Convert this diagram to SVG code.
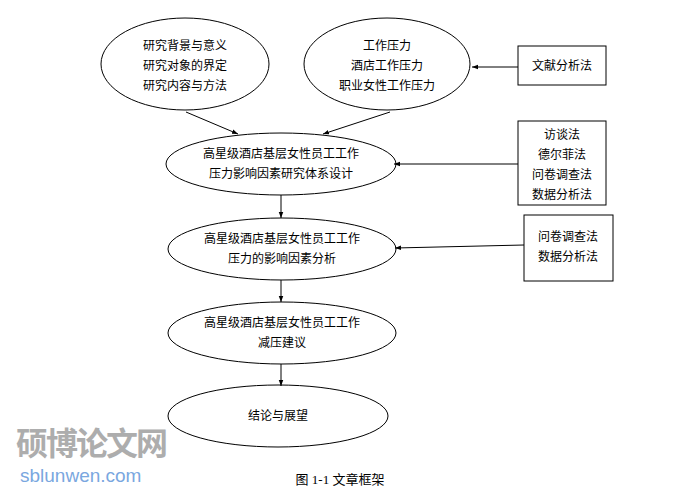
<svg xmlns="http://www.w3.org/2000/svg" width="689" height="493" viewBox="0 0 689 493">
<style>
.n{fill:#fff;stroke:#000;stroke-width:1}
.t{font-family:"Noto Sans CJK SC",sans-serif;font-size:12px;text-anchor:middle;fill:#000}
.c line{stroke:#000;stroke-width:1;marker-end:url(#a)}
</style>
<defs><marker id="a" viewBox="0 0 8 8" refX="8" refY="4" markerWidth="6" markerHeight="6" orient="auto"><path d="M0,1 L8,4 L0,7z" fill="#000"/></marker></defs>
<rect width="689" height="493" fill="#fff"/>
<g id="e1"><ellipse class="n" cx="185" cy="64" rx="84" ry="46"/><text class="t" x="185" y="50">研究背景与意义</text><text class="t" x="185" y="70">研究对象的界定</text><text class="t" x="185" y="90">研究内容与方法</text></g>
<g id="e2"><ellipse class="n" cx="387" cy="64" rx="83" ry="46"/><text class="t" x="387" y="50">工作压力</text><text class="t" x="387" y="70">酒店工作压力</text><text class="t" x="387" y="90">职业女性工作压力</text></g>
<g id="b1"><rect class="n" x="518" y="46" width="88" height="39"/><text class="t" x="562" y="70">文献分析法</text></g>
<g id="e3"><ellipse class="n" cx="281" cy="164" rx="115" ry="31"/><text class="t" x="281" y="158">高星级酒店基层女性员工工作</text><text class="t" x="281" y="178">压力影响因素研究体系设计</text></g>
<g id="b2"><rect class="n" x="518" y="121" width="88" height="84"/><text class="t" x="562" y="139">访谈法</text><text class="t" x="562" y="159">德尔菲法</text><text class="t" x="562" y="179">问卷调查法</text><text class="t" x="562" y="199">数据分析法</text></g>
<g id="e4"><ellipse class="n" cx="282" cy="249" rx="114" ry="31"/><text class="t" x="282" y="243">高星级酒店基层女性员工工作</text><text class="t" x="282" y="263">压力的影响因素分析</text></g>
<g id="b3"><rect class="n" x="524" y="215" width="89" height="66"/><text class="t" x="568" y="241">问卷调查法</text><text class="t" x="568" y="261">数据分析法</text></g>
<g id="e5"><ellipse class="n" cx="282" cy="333" rx="114" ry="31"/><text class="t" x="282" y="327">高星级酒店基层女性员工工作</text><text class="t" x="282" y="347">减压建议</text></g>
<g id="e6"><ellipse class="n" cx="278" cy="416" rx="110" ry="31"/><text class="t" x="278" y="420">结论与展望</text></g>
<g class="c">
<line x1="186" y1="112" x2="238" y2="134"/>
<line x1="390" y1="112" x2="323" y2="134"/>
<line x1="518" y1="67" x2="472" y2="67"/>
<line x1="518" y1="164" x2="394" y2="164"/>
<line x1="524" y1="245" x2="395" y2="248"/>
<line x1="281" y1="195" x2="281" y2="218"/>
<line x1="281" y1="280" x2="281" y2="302"/>
<line x1="281" y1="364" x2="281" y2="386"/>
</g>
<g id="wm"><text x="16" y="455" font-family="Noto Sans CJK SC,sans-serif" font-size="32" font-weight="bold" fill="#999" opacity="0.8" letter-spacing="-2">硕博论文网</text><text x="20" y="482" font-family="Liberation Sans,sans-serif" font-size="19" fill="#7aa7e0">sblunwen.com</text></g>
<text x="340" y="484" font-family="Liberation Serif,Noto Sans CJK SC,serif" font-size="13" text-anchor="middle">图 1-1  文章框架</text>
</svg>
